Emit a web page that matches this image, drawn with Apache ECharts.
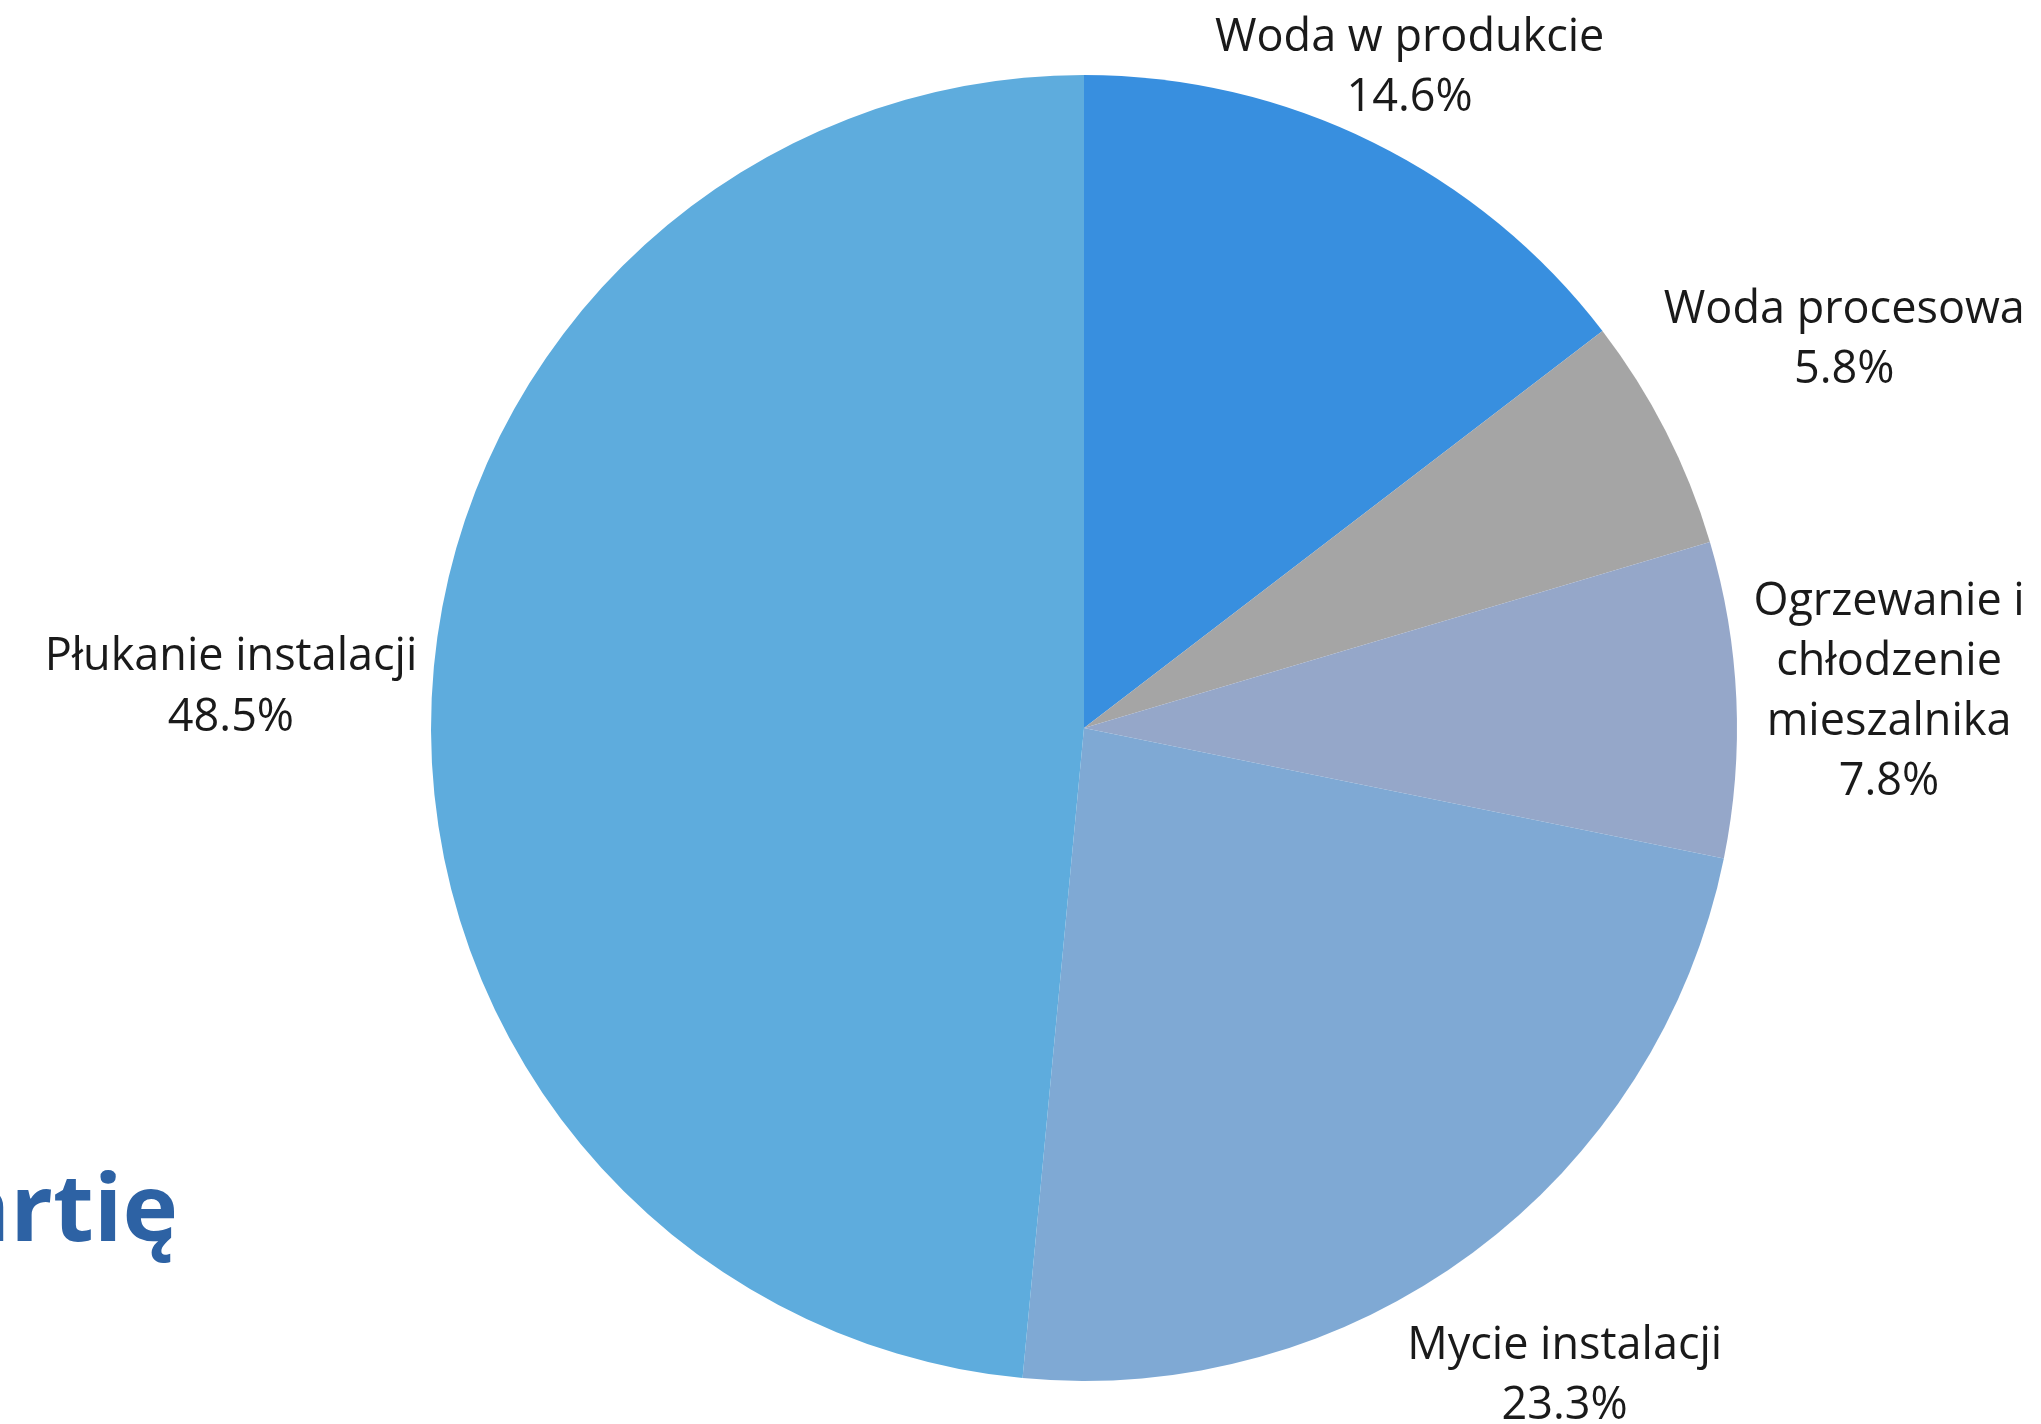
<!DOCTYPE html>
<html>
<head>
<meta charset="utf-8">
<style>
  html, body { margin: 0; padding: 0; background: #ffffff; }
  #chart { width: 2041px; height: 1424px; }
</style>
<script src="https://cdn.jsdelivr.net/npm/echarts@6/dist/echarts.min.js"></script>
</head>
<body>
<div id="chart"></div>
<script>
// ---- data ----
const categories = [
  'Woda w produkcie',
  'Woda procesowa',
  'Ogrzewanie i\nchłodzenie\nmieszalnika',
  'Mycie instalacji',
  'Płukanie instalacji'
];
const values = [14.6, 5.8, 7.8, 23.3, 48.5];
const colors = ['#388fdf', '#a5a5a5', '#95a7c9', '#7fa9d4', '#5eacdd'];

// ---- layout constants ----
const CX = 1084, CY = 728, R = 653;
const GAP = 12, TOP_MARGIN = 8;
const FONT = '"Open Sans", "Noto Sans", sans-serif';

const total = values.reduce((a, b) => a + b, 0);

const chart = echarts.init(document.getElementById('chart'), null, { renderer: 'canvas' });

chart.setOption({
  backgroundColor: '#ffffff',
  animation: false,
  graphic: [{
    type: 'text',
    style: {
      text: 'artię',
      x: 178,
      y: 1214,
      align: 'right',
      verticalAlign: 'middle',
      font: '700 94px ' + FONT,
      fill: '#2d62a4'
    }
  }],
  series: [{
    type: 'pie',
    center: [CX, CY],
    radius: [0, R],
    startAngle: 90,
    clockwise: true,
    avoidLabelOverlap: false,
    percentPrecision: 1,
    itemStyle: { borderWidth: 0 },
    emphasis: { disabled: true },
    labelLine: { show: false },
    label: {
      show: true,
      position: 'outside',
      formatter: '{n|{b}}\n{p|{d}%}',
      color: '#1a1a1a',
      fontFamily: FONT,
      fontSize: 45,
      lineHeight: 61,
      rich: {
        n: { fontFamily: FONT, fontSize: 45, lineHeight: 60, color: '#1a1a1a', align: 'center' },
        p: { fontFamily: FONT, fontSize: 45, lineHeight: 61, color: '#1a1a1a', align: 'center' }
      }
    },
    labelLayout: function (p) {
      const i = p.dataIndex;
      let before = 0;
      for (let j = 0; j < i; j++) before += values[j];
      const mid = (before + values[i] / 2) / total * Math.PI * 2;
      const dx = Math.sin(mid), dy = -Math.cos(mid);
      const w = p.labelRect.width, h = p.labelRect.height;
      let d = R + GAP + Math.abs(dx) * w / 2 + Math.abs(dy) * h / 2;
      let x = CX + dx * d, y = CY + dy * d;
      const top = TOP_MARGIN + h / 2;
      if (y < top) {
        d = (CY - top) / (-dy);
        x = CX + dx * d;
        y = top;
      }
      return { x: x, y: y, align: 'center', verticalAlign: 'middle' };
    },
    data: categories.map((c, i) => ({
      name: c,
      value: values[i],
      itemStyle: { color: colors[i] }
    }))
  }]
});
</script>
</body>
</html>
